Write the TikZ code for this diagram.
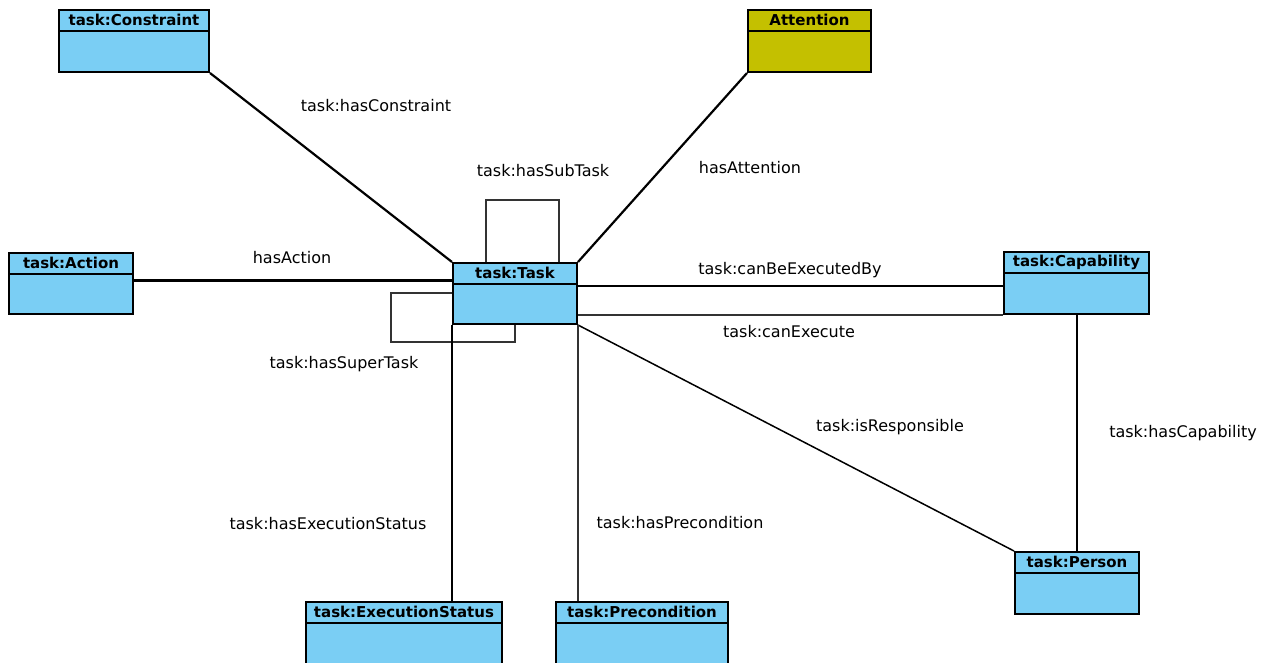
\documentclass[tikz,border=0pt]{standalone}
\usepackage{fontspec}
\setmainfont{DejaVu Sans}
\usetikzlibrary{calc}
\definecolor{classblue}{RGB}{122,206,244}
\definecolor{classolive}{RGB}{196,192,0}
\tikzset{
  classbox/.style={draw=black, line width=2pt, rectangle, inner sep=0pt, anchor=north west, fill=classblue},
  classtitle/.style={font=\fontsize{15}{17}\selectfont\bfseries, anchor=center, inner sep=0pt},
  rel/.style={font=\fontsize{16}{18}\selectfont, inner sep=0pt},
  strong/.style={line width=2.2pt, draw=black},
  weak/.style={line width=1.2pt, draw=black!80},
}
% class box: name, x, y (top left), width, height, title, fill
\newcommand\umlclass[7]{%
  \node[classbox, fill=#7, minimum width=#4pt, minimum height=#5pt] (#1) at (#2,#3) {};
  \draw[line width=1.3pt] ([yshift=-22pt]#1.north west) -- ([yshift=-22pt]#1.north east);
  \node[classtitle] (#1-title) at ([yshift=-11pt]#1.north) {#6};
}
\begin{document}
\begin{tikzpicture}[x=1pt,y=-1pt]
\useasboundingbox (0,0) rectangle (1264,662);

% class boxes
\umlclass{constraint}{58}{9}{150}{62}{task:Constraint}{classblue}
\umlclass{attention}{747}{9}{123}{62}{Attention}{classolive}
\umlclass{action}{8}{252}{124}{61}{task:Action}{classblue}
\umlclass{task}{452}{262}{124}{61}{task:Task}{classblue}
\umlclass{cap}{1003}{251}{145}{62}{task:Capability}{classblue}
\umlclass{person}{1014}{551}{124}{62}{task:Person}{classblue}
\umlclass{exec}{305}{601}{196}{80}{task:ExecutionStatus}{classblue}
\umlclass{pre}{555}{601}{172}{80}{task:Precondition}{classblue}

% connectors
\draw[strong] (constraint.south east) -- (task.north west);
\draw[strong] (attention.south west) -- (task.north east);
\draw[strong] ([yshift=3pt]action.east) -- ([yshift=3pt]action.east -| task.west);
\draw[weak] ([xshift=34pt]task.north west) |- ([xshift=107pt,yshift=62pt]task.north west) -- ([xshift=107pt]task.north west);
\draw[weak] ([yshift=-31pt]task.north west) -- ++(-61,0) |- ([xshift=63pt,yshift=-17pt]task.south west) -- ([xshift=63pt]task.south west);
\draw[strong] ([yshift=-24pt]task.north east) coordinate (cbe) -- (cbe -| cap.west);
\draw[weak] (cap.south west) -- (cap.south west -| task.east);
\draw[strong] (cap.south -| person.north) -- (person.north);
\draw[line width=1.5pt] (task.south east) -- (person.north west);
\draw[strong] (task.south west) -- (task.south west |- exec.north);
\draw[weak] (task.south east) -- (task.south east |- pre.north);

% relation names
\node[rel] (l-constraint) at (376,106) {task:hasConstraint};
\node[rel] (l-attention) at (750,168) {hasAttention};
\node[rel] (l-subtask) at (543,171) {task:hasSubTask};
\node[rel] (l-action) at (292,258) {hasAction};
\node[rel] (l-cbe) at (790,270) {task:canBeExecutedBy};
\node[rel] (l-canexec) at (789,332) {task:canExecute};
\node[rel] (l-super) at (344,364) {task:hasSuperTask};
\node[rel] (l-resp) at (890,427) {task:isResponsible};
\node[rel] (l-cap) at (1183,433) {task:hasCapability};
\node[rel] (l-exec) at (328,524) {task:hasExecutionStatus};
\node[rel] (l-pre) at (680,523) {task:hasPrecondition};
\end{tikzpicture}
\end{document}
